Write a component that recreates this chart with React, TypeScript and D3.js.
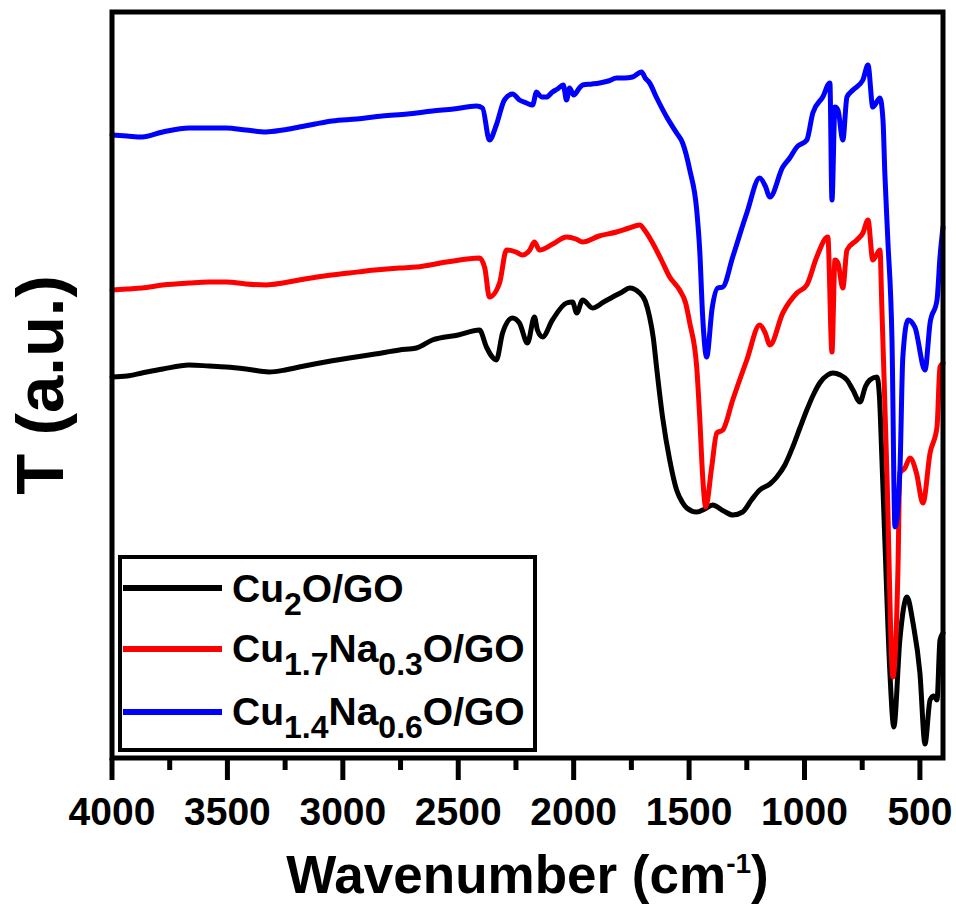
import React from "react";
import * as d3 from "d3";

// FTIR spectra: [wavenumber (cm^-1), transmittance (a.u.)]
const cu2oGO: [number, number][] = [
  [4000, 381], [3935, 382], [3870, 385], [3780, 389], [3666, 393], [3580, 392],
  [3506, 391], [3420, 389], [3319, 386], [3250, 388], [3189, 391], [3100, 395],
  [2972, 400], [2860, 404], [2755, 408], [2681, 410], [2612, 418], [2500, 423],
  [2408, 428], [2378, 411], [2335, 398], [2308, 425], [2265, 440], [2235, 435],
  [2200, 415], [2170, 441], [2157, 428], [2135, 421], [2092, 438], [2031, 455],
  [2005, 456], [1987, 445], [1961, 458], [1918, 450], [1870, 456], [1831, 461],
  [1790, 466], [1758, 470], [1714, 465], [1690, 457], [1671, 441], [1655, 420],
  [1641, 391], [1615, 341], [1584, 298], [1554, 268], [1530, 256], [1510, 250],
  [1467, 246], [1432, 249], [1398, 253], [1350, 247], [1311, 243], [1268, 246],
  [1230, 258], [1194, 268], [1150, 274], [1120, 281], [1085, 293], [1051, 311],
  [1020, 330], [990, 348], [960, 364], [934, 375], [900, 383], [877, 385],
  [845, 383], [816, 378], [790, 368], [760, 356], [735, 372], [717, 378],
  [686, 381], [675, 360], [665, 301], [652, 218], [630, 85], [613, 31],
  [587, 118], [556, 161], [530, 135], [500, 85], [478, 14], [456, 58],
  [440, 62], [426, 58], [413, 118], [400, 125],
];

const cu17na03GO: [number, number][] = [
  [4000, 468], [3935, 469], [3870, 470], [3780, 473], [3666, 475], [3580, 476],
  [3506, 476], [3420, 474], [3332, 473], [3260, 475], [3189, 478], [3080, 482],
  [2972, 485], [2860, 488], [2755, 490], [2681, 491], [2550, 496], [2408, 500],
  [2385, 490], [2365, 461], [2321, 475], [2291, 508], [2250, 506], [2222, 503],
  [2190, 508], [2170, 516], [2148, 508], [2090, 514], [2031, 521], [1990, 519],
  [1961, 516], [1890, 522], [1814, 526], [1760, 530], [1714, 533], [1690, 527],
  [1658, 515], [1620, 498], [1584, 481], [1541, 468], [1515, 455], [1497, 435],
  [1467, 391], [1454, 341], [1441, 281], [1428, 251], [1402, 291], [1380, 325],
  [1354, 328], [1311, 358], [1250, 398], [1194, 433], [1170, 425], [1150, 413],
  [1094, 445], [1033, 465], [990, 473], [947, 501], [899, 521], [881, 406],
  [868, 498], [855, 495], [834, 470], [816, 508], [773, 518], [747, 525],
  [725, 538], [704, 498], [673, 508], [665, 451], [656, 385], [643, 285],
  [617, 81], [595, 190], [587, 285], [565, 290], [543, 300], [515, 285],
  [487, 255], [456, 305], [426, 331], [413, 391], [400, 395],
];

const cu14na06GO: [number, number][] = [
  [4000, 623], [3935, 622], [3870, 621], [3780, 626], [3666, 630], [3580, 630],
  [3506, 630], [3420, 628], [3332, 626], [3260, 628], [3189, 631], [3120, 634],
  [3046, 637], [2940, 639], [2829, 642], [2720, 644], [2612, 647], [2520, 649],
  [2421, 652], [2395, 650], [2365, 618], [2335, 633], [2300, 658], [2265, 664],
  [2235, 658], [2205, 655], [2178, 653], [2161, 666], [2140, 661], [2118, 661],
  [2092, 666], [2070, 669], [2045, 673], [2031, 658], [2018, 670], [2000, 663],
  [1975, 670], [1961, 673], [1920, 674], [1888, 675], [1850, 677], [1814, 680],
  [1780, 680], [1745, 681], [1706, 686], [1690, 680], [1671, 675], [1640, 660],
  [1597, 641], [1554, 625], [1528, 615], [1497, 588], [1467, 548], [1454, 508],
  [1441, 441], [1424, 401], [1400, 450], [1376, 470], [1354, 471], [1311, 501],
  [1250, 545], [1194, 580], [1170, 572], [1150, 561], [1094, 591], [1064, 600],
  [1033, 611], [990, 618], [964, 645], [921, 661], [890, 675], [881, 558],
  [868, 651], [855, 648], [834, 618], [816, 661], [790, 668], [747, 678],
  [725, 693], [704, 651], [673, 660], [660, 638], [652, 585], [639, 518],
  [621, 418], [608, 231], [587, 285], [574, 401], [552, 438], [522, 431],
  [478, 388], [456, 435], [426, 458], [413, 501], [400, 531],
];

const majorTicks = [4000, 3500, 3000, 2500, 2000, 1500, 1000, 500];
const minorTicks = [3750, 3250, 2750, 2250, 1750, 1250, 750];

const seriesList = [
  { data: cu2oGO, color: "#000000", label: [["Cu", false], ["2", true], ["O/GO", false]] },
  { data: cu17na03GO, color: "#ff0000", label: [["Cu", false], ["1.7", true], ["Na", false], ["0.3", true], ["O/GO", false]] },
  { data: cu14na06GO, color: "#0000ff", label: [["Cu", false], ["1.4", true], ["Na", false], ["0.6", true], ["O/GO", false]] },
] as { data: [number, number][]; color: string; label: [string, boolean][] }[];

const W = 956;
const H = 907;
const left = 112;
const right = 943;
const top = 12;
const bottom = 758;
const FONT = "'Liberation Sans', Arial, Helvetica, sans-serif";

export default function App() {
  const x = d3.scaleLinear().domain([4000, 400]).range([left, right]);
  const y = d3.scaleLinear().domain([0, 746]).range([bottom, top]);
  const line = d3
    .line<[number, number]>()
    .x((d) => x(d[0]))
    .y((d) => y(d[1]))
    .curve(d3.curveMonotoneX);

  const legX = 120;
  const legY = 557;
  const legW = 415;
  const legH = 193;
  const rowY = [588, 649, 712];
  const textY = [602, 662, 725];

  return (
    <svg
      width={W}
      height={H}
      style={{ position: "absolute", left: 0, top: 0, background: "#fff" }}
      fontFamily={FONT}
      fontWeight="bold"
    >
      <rect x={0} y={0} width={W} height={H} fill="#fff" />

      {seriesList.map((s, i) => (
        <path
          key={i}
          d={line(s.data) || ""}
          fill="none"
          stroke={s.color}
          strokeWidth={5}
          strokeLinejoin="round"
          strokeLinecap="round"
        />
      ))}

      {/* frame */}
      <rect
        x={left}
        y={top}
        width={right - left}
        height={bottom - top}
        fill="none"
        stroke="#000"
        strokeWidth={5}
      />

      {/* x ticks */}
      {majorTicks.map((t) => (
        <line key={"M" + t} x1={x(t)} x2={x(t)} y1={bottom} y2={bottom + 22} stroke="#000" strokeWidth={5} />
      ))}
      {minorTicks.map((t) => (
        <line key={"m" + t} x1={x(t)} x2={x(t)} y1={bottom} y2={bottom + 12} stroke="#000" strokeWidth={5} />
      ))}
      {majorTicks.map((t) => (
        <text key={"l" + t} x={x(t)} y={825} textAnchor="middle" fontSize={39} fill="#000">
          {t}
        </text>
      ))}

      {/* axis titles */}
      <text x={(left + right) / 2} y={893} textAnchor="middle" fontSize={53} fill="#000">
        Wavenumber (cm
        <tspan fontSize={28} dy={-20}>-1</tspan>
        <tspan dy={20}>)</tspan>
      </text>
      <text
        transform={`translate(63, ${(top + bottom) / 2}) rotate(-90)`}
        textAnchor="middle"
        fontSize={67}
        fill="#000"
      >
        T (a.u.)
      </text>

      {/* legend */}
      <rect x={legX} y={legY} width={legW} height={legH} fill="#fff" stroke="#000" strokeWidth={4} />
      {seriesList.map((s, i) => (
        <g key={"leg" + i}>
          <line x1={123} x2={222} y1={rowY[i]} y2={rowY[i]} stroke={s.color} strokeWidth={6} />
          <text x={232} y={textY[i]} fontSize={39} fill="#000">
            {s.label.map(([txt, sub], j) => {
              const prevSub = j > 0 && s.label[j - 1][1];
              const dy = sub ? 13 : prevSub ? -13 : 0;
              return (
                <tspan key={j} fontSize={sub ? 32 : 39} dy={dy}>
                  {txt}
                </tspan>
              );
            })}
          </text>
        </g>
      ))}
    </svg>
  );
}
